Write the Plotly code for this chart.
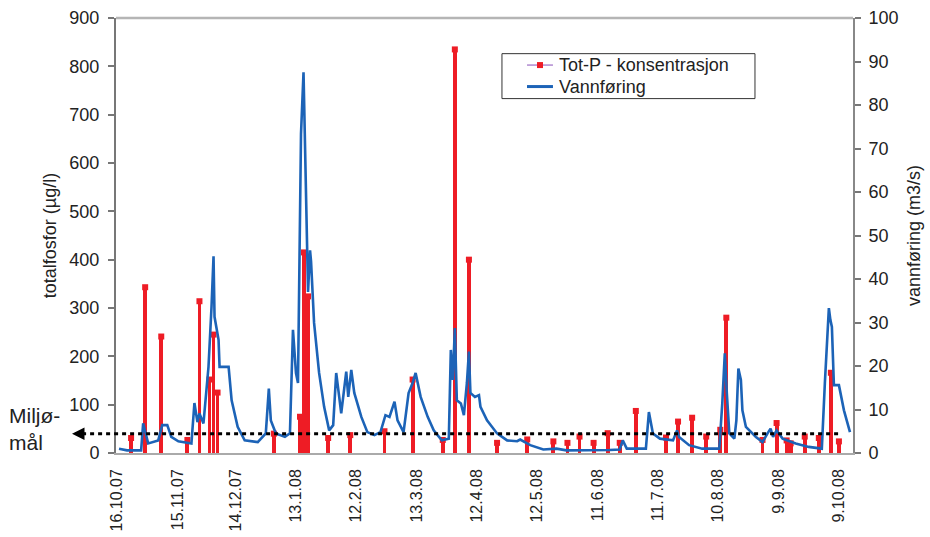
import plotly.graph_objects as go

# --- Data ---
tick_dates = ["2007-10-16", "2007-11-15", "2007-12-14", "2008-01-13", "2008-02-12", "2008-03-13",
              "2008-04-12", "2008-05-12", "2008-06-11", "2008-07-11", "2008-08-10", "2008-09-09", "2008-10-09"]
tick_labels = ["16.10.07", "15.11.07", "14.12.07", "13.1.08", "12.2.08", "13.3.08",
               "12.4.08", "12.5.08", "11.6.08", "11.7.08", "10.8.08", "9.9.08", "9.10.08"]

# Tot-P concentration samples (µg/l)
tp_dates = ["2007-10-23", "2007-10-30", "2007-11-07", "2007-11-20", "2007-11-26", "2007-12-01", "2007-12-03",
            "2007-12-05", "2008-01-02", "2008-01-15", "2008-01-17", "2008-01-19", "2008-01-29", "2008-02-09",
            "2008-02-26", "2008-03-11", "2008-03-26", "2008-04-01", "2008-04-08", "2008-04-22", "2008-05-07",
            "2008-05-20", "2008-05-27", "2008-06-02", "2008-06-09", "2008-06-16", "2008-06-22", "2008-06-30",
            "2008-07-15", "2008-07-21", "2008-07-28", "2008-08-04", "2008-08-11", "2008-08-14", "2008-09-01",
            "2008-09-08", "2008-09-13", "2008-09-15", "2008-09-22", "2008-09-29", "2008-10-05", "2008-10-09"]
tp_values = [31, 343, 241, 27, 314, 152, 245, 125, 40, 75,
             415, 324, 31, 37, 45, 152, 27, 835, 400, 21,
             28, 24, 21, 34, 21, 41, 21, 87, 32, 65,
             73, 34, 48, 280, 27, 62, 26, 20, 34, 31,
             166, 24]

# Water flow (m3/s)
flow_dates = ["2007-10-17", "2007-10-21", "2007-10-28", "2007-10-29", "2007-10-31 12:00", "2007-11-05 12:00",
              "2007-11-07 12:00", "2007-11-10", "2007-11-12", "2007-11-15 12:00",
              "2007-11-22", "2007-11-23 12:00", "2007-11-25", "2007-11-26", "2007-11-28", "2007-11-30 12:00",
              "2007-12-02", "2007-12-03", "2007-12-03 12:00", "2007-12-05 12:00",
              "2007-12-06", "2007-12-10 12:00", "2007-12-12", "2007-12-15", "2007-12-18 12:00", "2007-12-25",
              "2007-12-29", "2007-12-30 12:00", "2007-12-31 12:00", "2008-01-03",
              "2008-01-07 12:00", "2008-01-10", "2008-01-11 12:00", "2008-01-13", "2008-01-14", "2008-01-15 12:00",
              "2008-01-16 18:00", "2008-01-17 12:00", "2008-01-18 06:00", "2008-01-19",
              "2008-01-20", "2008-01-20 12:00", "2008-01-22", "2008-01-24 12:00", "2008-01-27", "2008-01-29 12:00",
              "2008-01-31 12:00", "2008-02-02", "2008-02-03 12:00", "2008-02-04 12:00",
              "2008-02-07", "2008-02-08", "2008-02-09 12:00", "2008-02-11", "2008-02-14 12:00", "2008-02-17 12:00",
              "2008-02-21", "2008-02-24", "2008-02-26 12:00", "2008-02-28 12:00",
              "2008-03-02", "2008-03-03 12:00", "2008-03-06 12:00", "2008-03-09", "2008-03-11", "2008-03-12 12:00",
              "2008-03-15", "2008-03-18 12:00", "2008-03-21 12:00", "2008-03-25 12:00",
              "2008-03-29", "2008-03-30", "2008-03-31", "2008-04-01", "2008-04-02", "2008-04-04",
              "2008-04-05 12:00", "2008-04-07", "2008-04-08", "2008-04-08 18:00",
              "2008-04-11", "2008-04-13", "2008-04-13 18:00", "2008-04-17", "2008-04-22", "2008-04-27",
              "2008-05-02", "2008-05-03 12:00", "2008-05-08 12:00", "2008-05-15",
              "2008-05-21 12:00", "2008-05-26 12:00", "2008-06-17", "2008-06-22", "2008-06-23 12:00",
              "2008-06-25 12:00", "2008-07-05", "2008-07-06 12:00", "2008-07-08 12:00", "2008-07-12",
              "2008-07-18 12:00", "2008-07-20 12:00", "2008-07-21 12:00", "2008-07-26 12:00", "2008-08-02",
              "2008-08-10 12:00", "2008-08-12", "2008-08-13 06:00", "2008-08-14 06:00", "2008-08-15 12:00",
              "2008-08-18", "2008-08-19", "2008-08-20", "2008-08-21 06:00", "2008-08-22", "2008-08-23 18:00",
              "2008-08-28 18:00", "2008-09-01", "2008-09-03 12:00", "2008-09-05",
              "2008-09-06 06:00", "2008-09-08", "2008-09-11", "2008-09-17 12:00", "2008-09-24", "2008-09-30 12:00",
              "2008-10-02", "2008-10-03", "2008-10-04", "2008-10-04 18:00",
              "2008-10-05 12:00", "2008-10-06 12:00", "2008-10-09", "2008-10-11 12:00", "2008-10-14 12:00"]
flow_values = [1.0, 0.6, 0.6, 6.8, 2.2, 2.9, 6.4, 6.4, 3.7, 2.7,
               2.2, 11.5, 7.1, 9.1, 6.8, 19.8, 33.6, 45.2, 31.3, 26,
               19.8, 19.8, 12.1, 6, 2.9, 2.5, 4.5, 14.8, 7.5, 4.5,
               3.7, 4.5, 28.3, 18.4, 16.1, 73.3, 87.5, 72, 58, 37,
               46.6, 44, 29.9, 18.4, 10.6, 5.2, 6.4, 18.4, 12.9, 9.1,
               18.7, 12.9, 19.1, 13.8, 8.3, 4.8, 4.1, 4.8, 8.7, 8.3,
               11.8, 7.5, 4.8, 13.8, 16.1, 18.4, 12.9, 8.3, 5.2, 2.9,
               3.3, 23.7, 16.8, 28.7, 12.1, 11.4, 8.7, 16.1, 23.3, 13.8,
               12.9, 13.3, 10.6, 7.5, 4.5, 2.9, 2.7, 3.1, 1.8, 0.8,
               1.0, 0.6, 0.7, 0.8, 2.9, 1.0, 1.0, 9.4, 4.5, 3.3,
               2.9, 5.2, 3.7, 1.8, 1.0, 1.0, 11.4, 22.9, 13.8, 4.5,
               3.3, 7.5, 19.4, 16.8, 9.8, 6, 3.7, 2.5, 4.5, 5.6,
               3.7, 5.2, 3.3, 2.2, 1.4, 1.0, 16, 26, 33.3, 30.6,
               29, 15.6, 15.6, 9.8, 4.8]

miljomal = 40  # µg/l
series_names = ["Tot-P - konsentrasjon", "Vannføring"]

RED = "#ee1c25"
BLUE = "#1c63b7"
PURPLE = "#b08ad0"
FONT = "Liberation Sans, Arial, sans-serif"
DAY_MS = 86400000

fig = go.Figure()

fig.add_trace(go.Bar(
    x=tp_dates, y=tp_values, width=1.9 * DAY_MS, name=series_names[0],
    marker=dict(color=RED, line=dict(width=0)),
    showlegend=False, yaxis="y"))
fig.add_trace(go.Scatter(
    x=tp_dates, y=tp_values, mode="markers", name=series_names[0],
    marker=dict(symbol="square", size=6, color=RED),
    showlegend=False, yaxis="y"))
fig.add_trace(go.Scatter(
    x=flow_dates, y=flow_values, mode="lines", name=series_names[1],
    line=dict(color=BLUE, width=2.6), showlegend=False, yaxis="y2"))

fig.update_layout(
    width=930, height=537,
    margin=dict(l=116, r=77, t=18, b=84, autoexpand=False),
    paper_bgcolor="white", plot_bgcolor="white",
    font=dict(family=FONT, size=16, color="#222"),
    xaxis=dict(
        type="date", range=["2007-10-15 12:00", "2008-10-16"],
        tickmode="array", tickvals=tick_dates, ticktext=tick_labels,
        tickangle=-90, ticks="", showgrid=False, zeroline=False,
        showline=True, linecolor="#aaaaaa", linewidth=1.5,
        ticklabelstandoff=8,
        tickfont=dict(size=16, color="#222"), automargin=False),
    yaxis=dict(
        range=[0, 900], tickmode="linear", tick0=0, dtick=100,
        showgrid=False, zeroline=False, showline=True, linecolor="#777777", linewidth=2,
        ticks="outside", ticklen=6, tickcolor="#777777", tickwidth=1.5,
        ticklabelstandoff=5,
        tickfont=dict(size=18, color="#222"),
        title=dict(text="totalfosfor (µg/l)", font=dict(size=18, color="#222"), standoff=8),
        automargin=False),
    yaxis2=dict(
        range=[0, 100], tickmode="linear", tick0=0, dtick=10,
        overlaying="y", side="right",
        showgrid=False, zeroline=False, showline=True, linecolor="#888888", linewidth=2,
        ticks="outside", ticklen=6, tickcolor="#777777", tickwidth=1.5,
        ticklabelstandoff=4,
        tickfont=dict(size=18, color="#222"),
        title=dict(text="vannføring (m3/s)", font=dict(size=18, color="#222"), standoff=10),
        automargin=False),
    bargap=0,
    showlegend=False,
)

# top border of plot area
fig.add_shape(type="line", xref="paper", yref="paper", x0=0, x1=1, y0=1, y1=1,
              line=dict(color="#b5b5b5", width=2.5))
# Miljømål dashed line with arrow
fig.add_shape(type="line", xref="paper", yref="y", x0=-0.046, x1=0.985, y0=miljomal, y1=miljomal,
              line=dict(color="black", width=3, dash="4px,4px"))
fig.add_annotation(xref="paper", yref="y", x=-0.0597, y=miljomal, text="",
                   showarrow=True, ax=14, ay=0, arrowhead=2, arrowsize=1, arrowwidth=2.5,
                   arrowcolor="black", standoff=0)
fig.add_annotation(xref="paper", yref="paper", x=-0.148, y=0.055, xanchor="left", yanchor="middle",
                   text="Miljø-<br>mål", showarrow=False, align="left",
                   font=dict(size=21, color="#222", family=FONT))

# legend box (drawn in paper coordinates)
fig.add_shape(type="rect", xref="paper", yref="paper", x0=0.5237, x1=0.867, y0=0.8147, y1=0.918,
              line=dict(color="#333333", width=1), fillcolor="white", layer="above")
fig.add_shape(type="line", xref="paper", yref="paper", x0=0.5577, x1=0.5929, y0=0.8918, y1=0.8918,
              line=dict(color=PURPLE, width=1.5), layer="above")
fig.add_shape(type="rect", xref="paper", yref="paper", x0=0.5712, x1=0.5794, y0=0.8849, y1=0.8987,
              line=dict(width=0), fillcolor=RED, layer="above")
fig.add_shape(type="line", xref="paper", yref="paper", x0=0.5577, x1=0.5929, y0=0.8424, y1=0.8424,
              line=dict(color=BLUE, width=3), layer="above")
for name, ypos in zip(series_names, [0.8918, 0.8424]):
    fig.add_annotation(xref="paper", yref="paper", x=0.5984, y=ypos, xanchor="left", yanchor="middle",
                       text=name, showarrow=False, font=dict(size=18, color="#222", family=FONT))

fig.write_html("out.html", config={"displayModeBar": False},
               post_script="document.body.style.margin='0px';")
